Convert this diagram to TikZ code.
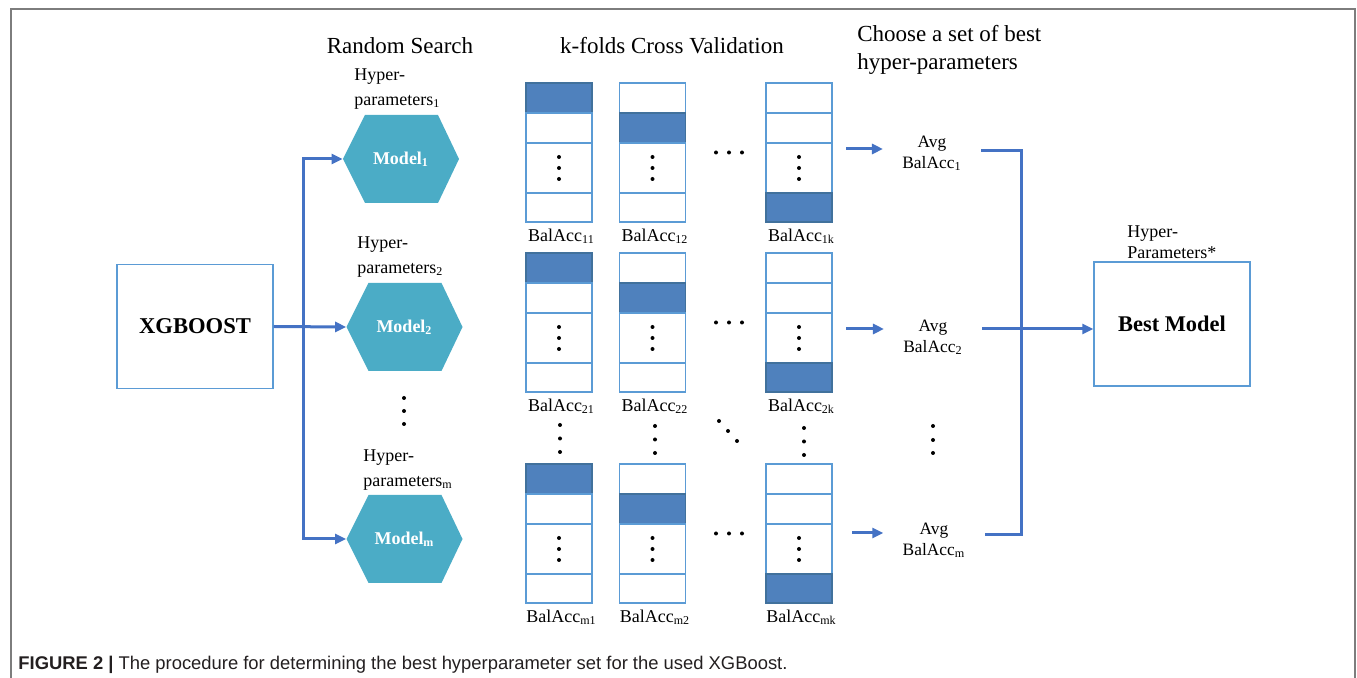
\documentclass[tikz,border=0pt]{standalone}
\usepackage{fontspec}
\setmainfont{Liberation Serif}
\newfontfamily\capfont{Liberation Sans}
\usetikzlibrary{arrows.meta,calc}
\definecolor{hexc}{RGB}{75,172,198}
\definecolor{foldblue}{RGB}{79,129,189}
\definecolor{foldedge}{RGB}{65,113,156}
\definecolor{boxedge}{RGB}{91,155,213}
\definecolor{connc}{RGB}{68,114,196}
\definecolor{framec}{RGB}{125,125,125}
\definecolor{capc}{RGB}{35,31,32}
\begin{document}
\begin{tikzpicture}[x=0.5pt,y=-0.5pt,
  conn/.style={draw=connc, line width=1.5pt, line join=miter},
  tip/.style={-{Triangle[length=5.5pt,width=5pt]}},
  bigbox/.style={draw=boxedge, line width=0.7pt, minimum width=78pt, minimum height=62pt, inner sep=0pt, font=\fontsize{11.3}{13}\selectfont\bfseries},
  hexnode/.style={minimum width=58pt, minimum height=44pt, inner sep=0pt, fill=white, text=white, font=\fontsize{9}{11}\selectfont\bfseries,
     path picture={\fill[hexc] (path picture bounding box.west) -- ([xshift=11pt]path picture bounding box.north west) -- ([xshift=-10.5pt]path picture bounding box.north east) -- (path picture bounding box.east) -- ([xshift=-10.5pt]path picture bounding box.south east) -- ([xshift=11pt]path picture bounding box.south west) -- cycle;}},
  hyplab/.style={anchor=west, align=left, inner sep=0pt, font=\fontsize{9}{12.5}\selectfont},
  header/.style={inner sep=0pt, font=\fontsize{11.5}{14}\selectfont},
  cellbox/.style={line width=0.7pt, minimum width=33pt, inner sep=0pt},
  ballab/.style={inner sep=0pt, font=\fontsize{9}{11}\selectfont},
  avgnode/.style={align=center, font=\fontsize{8.7}{10.5}\selectfont, inner xsep=9.5pt, inner ysep=0pt},
]
\useasboundingbox (0,0) rectangle (1357,678);
% frame
\draw[framec, line width=1pt] (11,678) -- (11,9) -- (1355,9) -- (1355,678);

% headers
\node[header] (hrs) at (400,46) {Random Search};
\node[header] (hkf) at (672,46) {k-folds Cross Validation};
\node[header, anchor=west, align=left] (hch) at (857,50) {Choose a set of best\\hyper-parameters};

% XGBoost
\node[bigbox] (xg) at (195,326.5) {XGBOOST};

% hexagons
\node[hexnode] (h1) at (401,159) {Model\textsubscript{1}};
\node[hexnode] (h2) at (404.5,327) {Model\textsubscript{2}};
\node[hexnode] (hm) at (404.5,539) {Model\textsubscript{m}};
\node[hyplab] (hl1) at (354,89) {Hyper-\\parameters\textsubscript{1}};
\node[hyplab] (hl2) at (357,257) {Hyper-\\parameters\textsubscript{2}};
\node[hyplab] (hlm) at (363,470) {Hyper-\\parameters\textsubscript{m}};
\foreach \d in {398,411,424} \fill (404,\d) circle (2);

% connectors XGBoost -> models
\coordinate (tr) at (303,0);
\draw[conn,tip] (xg.east) -- (h2.west);
\draw[conn,tip] (h2.west -| tr) |- (h1.west);
\draw[conn,tip] (h2.west -| tr) |- (hm.west);

% folds
\foreach \r/\T in {1/83,2/253,m/464}{
  \foreach \c/\X/\bl in {1/559/1, 2/652.5/2, k/799/4}{
    \foreach \s/\yo/\h in {1/15/30,2/45/30,3/85/50,4/124.5/29}{
      \ifnum\s=\bl \def\fc{foldblue}\def\dc{foldedge}\else\def\fc{white}\def\dc{boxedge}\fi
      \node[cellbox, fill=\fc, draw=\dc, minimum height=\h*0.5pt] (f\r\c\s) at (\X,\T+\yo) {};
    }
    \foreach \d in {-11,0,11} \fill ($(f\r\c3.center)+(0,\d)$) circle (2);
    \node[ballab] (lab\r\c) at (\X+2.5,\T+153) {BalAcc\textsubscript{\r\c}};
  }
  \foreach \dx in {716,729,742} \fill (\dx,\T+69.5) circle (2);
}
% dots between rows
\foreach \x/\y in {560/425,655/426,804/428}{
  \foreach \d in {0,13.5,27} \fill (\x,\y+\d) circle (2);
}
\fill (719,421) circle (2);
\fill (728,431) circle (2);
\fill (737,441) circle (2);

% averages
\node[avgnode] (avg1) at (932,153) {Avg\\BalAcc\textsubscript{1}};
\node[avgnode] (avg2) at (933,337) {Avg\\BalAcc\textsubscript{2}};
\node[avgnode] (avgm) at (934,540) {Avg\\BalAcc\textsubscript{m}};
\foreach \d in {426,440,453} \fill (933,\d) circle (2);

\coordinate (s1) at (846,149);
\coordinate (s2) at (846,329);
\coordinate (sm) at (852,533);
\draw[conn,tip] (s1) -- (s1 -| avg1.west);
\draw[conn,tip] (s2) -- (s2 -| avg2.west);
\draw[conn,tip] (sm) -- (sm -| avgm.west);

% best model
\node[bigbox, font=\fontsize{11.2}{13}\selectfont\bfseries] (best) at (1172,324) {Best Model};
\node[hyplab, font=\fontsize{9}{10.5}\selectfont] (hlb) at (1127,242) {Hyper-\\Parameters*};

\coordinate (bt) at (1021,151);
\coordinate (bb) at (1021,535);
\draw[conn] (avg1.east |- bt) -- (bt) -- (bb) -- (avgm.east |- bb);
\draw[conn,tip] (avg2.east |- s2) -- (s2 -| best.west);

% caption
\node[anchor=west, inner sep=0pt, text=capc, font=\capfont\fontsize{9.2}{11}\selectfont] (cap) at (18,665)
  {\textbf{FIGURE 2 |} The procedure for determining the best hyperparameter set for the used XGBoost.};
\end{tikzpicture}
\end{document}
